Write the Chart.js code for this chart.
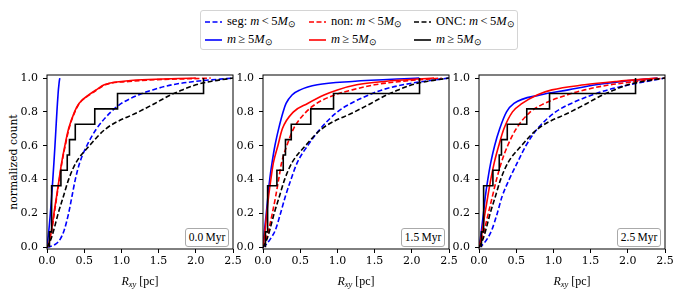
<!DOCTYPE html>
<html>
<head>
<meta charset="utf-8">
<script src="https://cdn.jsdelivr.net/npm/chart.js@4.4.1/dist/chart.umd.min.js"></script>
<style>
  body { margin: 0; background: #fff; }
  #wrap { position: relative; width: 681px; height: 298px; overflow: hidden; font-family: "Liberation Serif", serif; }
  canvas { position: absolute; top: 60px; }
  .xtitle { position: absolute; top: 274px; width: 186px; text-align: center; font-size: 12px; }
  .xtitle sub { font-size: 8.5px; vertical-align: -2px; font-style: italic; }
  .ytitle { position: absolute; left: 13px; top: 162px; transform: translate(-50%, -50%) rotate(-90deg);
            font-family: "DejaVu Serif", serif; font-size: 10.8px; white-space: nowrap; }
  .tbox { position: absolute; top: 228px; width: 42px; height: 17px; border: 1px solid #aaa; border-radius: 3px;
          background: #fff; font-size: 11.5px; line-height: 17px; text-align: center; white-space: nowrap; }
  #legend { position: absolute; left: 200px; top: 10px; width: 316px; height: 38px; border: 1px solid #d4d4d4;
            border-radius: 3px; background: #fff; }
  .item { position: absolute; font-size: 12.5px; white-space: nowrap; line-height: 14px; }
  .item svg { vertical-align: middle; margin-right: 5px; }
  .item sub { font-size: 8.5px; vertical-align: -2px; }
</style>
</head>
<body>
<div id="wrap">
  <div id="legend"></div>
  <div class="ytitle">normalized count</div>
</div>
<script>
// cumulative levels, each series gives the radius (pc) where that level is reached
const levels = [0, 0.02, 0.05, 0.1, 0.2, 0.3, 0.4, 0.5, 0.6, 0.7, 0.8, 0.85, 0.9, 0.93, 0.96, 0.98, 1.0];

// 0.0 Myr
const segLo0 = [0, 0.12, 0.18, 0.23, 0.29, 0.335, 0.38, 0.44, 0.535, 0.665, 0.86, 1.0, 1.23, 1.42, 1.68, 1.99, 2.5];
const segHi0 = [0, 0.005, 0.012, 0.025, 0.045, 0.062, 0.078, 0.093, 0.107, 0.12, 0.133, 0.14, 0.148, 0.153, 0.16, 0.165, 0.172];
const nonLo0 = [0, 0.025, 0.045, 0.065, 0.098, 0.132, 0.166, 0.2, 0.245, 0.295, 0.375, 0.435, 0.57, 0.67, 0.78, 1.1, 2.2];
const nonHi0 = [0, 0.022, 0.04, 0.06, 0.093, 0.128, 0.162, 0.197, 0.24, 0.29, 0.37, 0.43, 0.56, 0.66, 0.77, 1.0, 2.0];
// 1.5 Myr
const segLo1 = [0, 0.05, 0.1, 0.165, 0.235, 0.3, 0.375, 0.46, 0.6, 0.77, 1.0, 1.18, 1.42, 1.6, 1.88, 2.15, 2.5];
const segHi1 = [0, 0.004, 0.01, 0.02, 0.044, 0.066, 0.09, 0.122, 0.16, 0.21, 0.27, 0.31, 0.39, 0.5, 0.73, 1.2, 2.1];
const nonLo1 = [0, 0.02, 0.04, 0.075, 0.125, 0.17, 0.21, 0.25, 0.32, 0.41, 0.58, 0.72, 0.96, 1.2, 1.5, 1.85, 2.4];
const nonHi1 = [0, 0.006, 0.014, 0.028, 0.05, 0.075, 0.105, 0.14, 0.2, 0.26, 0.41, 0.6, 0.82, 1.0, 1.26, 1.63, 2.3];
// 2.5 Myr
const segLo2 = [0, 0.06, 0.11, 0.17, 0.245, 0.31, 0.405, 0.515, 0.63, 0.785, 1.03, 1.24, 1.52, 1.73, 2.02, 2.25, 2.5];
const segHi2 = [0, 0.008, 0.018, 0.033, 0.06, 0.085, 0.118, 0.158, 0.21, 0.278, 0.37, 0.47, 0.82, 1.2, 1.57, 1.92, 2.4];
const nonLo2 = [0, 0.02, 0.04, 0.07, 0.125, 0.18, 0.235, 0.3, 0.385, 0.5, 0.69, 0.88, 1.18, 1.42, 1.76, 2.12, 2.5];
const nonHi2 = [0, 0.012, 0.025, 0.045, 0.08, 0.118, 0.158, 0.205, 0.265, 0.335, 0.45, 0.58, 0.78, 0.98, 1.42, 1.85, 2.4];
// ONC observations (same in every panel)
const oncLo = [0, 0.025, 0.055, 0.09, 0.15, 0.22, 0.29, 0.39, 0.57, 0.79, 1.23, 1.45, 1.66, 1.82, 2.0, 2.2, 2.5];
const oncStepR = [0.033, 0.033, 0.062, 0.187, 0.272, 0.302, 0.38, 0.642, 0.948, 2.104];
const oncStepF = [0, 0.091, 0.364, 0.455, 0.545, 0.636, 0.727, 0.818, 0.909, 1.0];

const ages = ['0.0', '1.5', '2.5'];
const xTicks = [0, 0.5, 1.0, 1.5, 2.0, 2.5];
const yTicks = [0, 0.2, 0.4, 0.6, 0.8, 1.0];

const panels = [
  { segLo: segLo0, segHi: segHi0, nonLo: nonLo0, nonHi: nonHi0 },
  { segLo: segLo1, segHi: segHi1, nonLo: nonLo1, nonHi: nonHi1 },
  { segLo: segLo2, segHi: segHi2, nonLo: nonLo2, nonHi: nonHi2 },
];
const plotLeft = [47, 263, 479];

const BLUE = '#0000ff', RED = '#ff0000', BLACK = '#000000';
const DASH = [5, 2.5];

const cdf = r => r.map((v, i) => ({ x: v, y: levels[i] }));

const frame = {
  id: 'frame',
  afterDraw(chart) {
    const { ctx, chartArea: a } = chart;
    ctx.save();
    ctx.strokeStyle = '#000';
    ctx.lineWidth = 1;
    ctx.strokeRect(a.left, a.top, a.right - a.left, a.bottom - a.top);
    ctx.restore();
  }
};

function line(data, color, dashed, order, extra) {
  return Object.assign({
    data, borderColor: color, borderWidth: 1.6, borderDash: dashed ? DASH : [],
    pointRadius: 0, fill: false, cubicInterpolationMode: 'monotone', order
  }, extra || {});
}

const wrap = document.getElementById('wrap');

panels.forEach((p, i) => {
  const cv = document.createElement('canvas');
  cv.width = 240; cv.height = 238;
  cv.style.left = (plotLeft[i] - 40) + 'px';
  wrap.appendChild(cv);

  new Chart(cv, {
    type: 'line',
    data: {
      datasets: [
        line(cdf(p.segLo), BLUE, true, 6),
        line(cdf(p.segHi), BLUE, false, 5),
        line(cdf(p.nonLo), RED, true, 4),
        line(cdf(p.nonHi), RED, false, 3),
        line(cdf(oncLo), BLACK, true, 2),
        // ECDF of the observed massive stars: horizontal first, then up
        line(oncStepR.map((v, k) => ({ x: v, y: oncStepF[k] })), BLACK, false, 1,
             { stepped: 'before', cubicInterpolationMode: 'default' }),
      ]
    },
    options: {
      responsive: false,
      devicePixelRatio: 1,
      animation: false,
      layout: { padding: { top: 15, right: 14, left: 0, bottom: 0 } },
      plugins: { legend: { display: false }, tooltip: { enabled: false } },
      scales: {
        x: {
          type: 'linear', min: 0, max: 2.5,
          afterBuildTicks: s => { s.ticks = xTicks.map(v => ({ value: v })); },
          afterFit: s => { s.height = 49; },
          border: { display: false },
          grid: { drawOnChartArea: false, drawTicks: true, tickLength: 4, color: '#000' },
          ticks: { color: '#000', padding: 2, maxRotation: 0,
                   font: { family: 'DejaVu Serif', size: 11 },
                   callback: v => v.toFixed(1) }
        },
        y: {
          type: 'linear', min: -0.01, max: 1.018,
          afterBuildTicks: s => { s.ticks = yTicks.map(v => ({ value: v })); },
          afterFit: s => { s.width = 40; },
          border: { display: false },
          grid: { drawOnChartArea: false, drawTicks: true, tickLength: 4, color: '#000' },
          ticks: { color: '#000', padding: 5,
                   font: { family: 'DejaVu Serif', size: 11 },
                   callback: v => v.toFixed(1) }
        }
      }
    },
    plugins: [frame]
  });

  const xt = document.createElement('div');
  xt.className = 'xtitle';
  xt.style.left = plotLeft[i] + 'px';
  xt.innerHTML = '<i>R</i><sub>xy</sub> [pc]';
  wrap.appendChild(xt);

  const tb = document.createElement('div');
  tb.className = 'tbox';
  tb.style.left = (plotLeft[i] + 186 - 48) + 'px';
  tb.textContent = ages[i] + '\u2009Myr';
  wrap.appendChild(tb);
});

// legend
const legendItems = [
  { x: 4, y: 3, color: BLUE, dashed: true, label: 'seg: ' },
  { x: 4, y: 21, color: BLUE, dashed: false, label: '' },
  { x: 108, y: 3, color: RED, dashed: true, label: 'non: ' },
  { x: 108, y: 21, color: RED, dashed: false, label: '' },
  { x: 213, y: 3, color: BLACK, dashed: true, label: 'ONC: ' },
  { x: 213, y: 21, color: BLACK, dashed: false, label: '' },
];
const lg = document.getElementById('legend');
legendItems.forEach(it => {
  const d = document.createElement('div');
  d.className = 'item';
  d.style.left = it.x + 'px';
  d.style.top = it.y + 'px';
  const math = it.dashed
    ? '<i>m</i>\u2009&lt;\u20095<i>M</i><sub>\u2299</sub>'
    : '<i>m</i>\u2009\u2265\u20095<i>M</i><sub>\u2299</sub>';
  d.innerHTML = '<svg width="17" height="6"><line x1="0" y1="3" x2="17" y2="3" stroke="' + it.color +
    '" stroke-width="1.6"' + (it.dashed ? ' stroke-dasharray="5,2.5"' : '') + '/></svg>' + it.label + math;
  lg.appendChild(d);
});
</script>
</body>
</html>
